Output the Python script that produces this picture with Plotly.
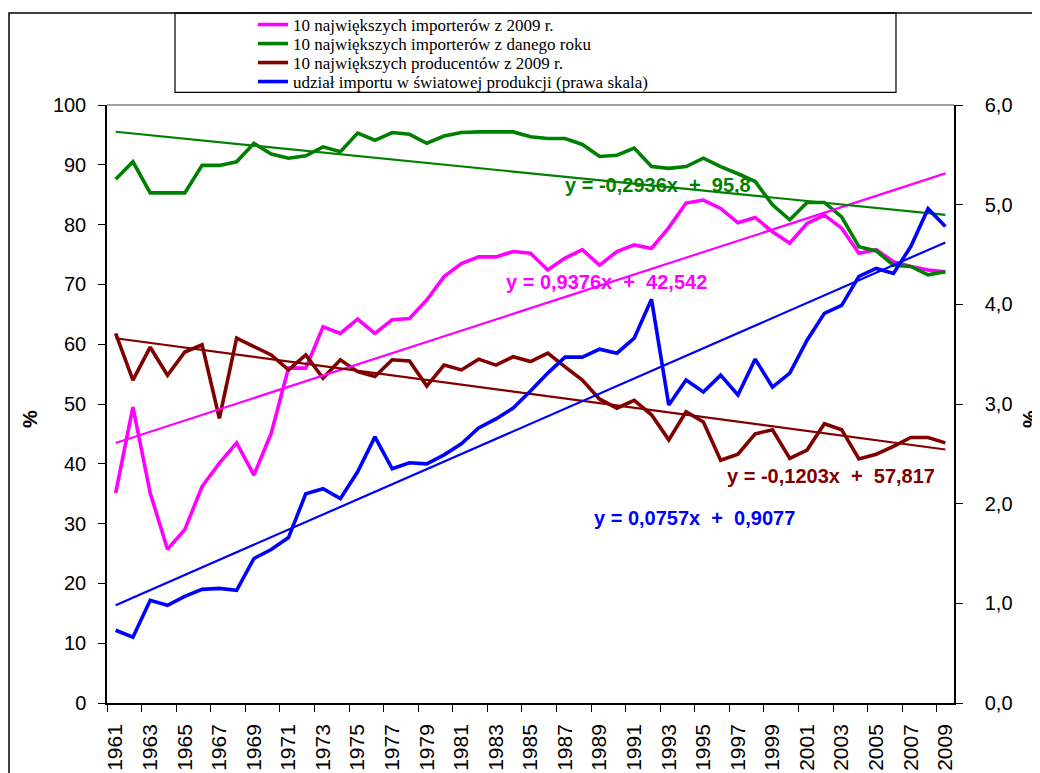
import numpy as np
import plotly.graph_objects as go

years = list(range(1961, 2010))

importers_2009 = [35.1, 49.5, 35.1, 25.7, 29.0, 36.2, 40.1, 43.5, 38.1, 45.1,
                  56.0, 56.0, 62.9, 61.8, 64.2, 61.8, 64.1, 64.3, 67.4, 71.3,
                  73.5, 74.6, 74.6, 75.5, 75.2, 72.4, 74.4, 75.8, 73.2, 75.5,
                  76.6, 76.0, 79.5, 83.6, 84.1, 82.7, 80.3, 81.2, 78.8, 76.9,
                  80.2, 81.6, 79.4, 75.2, 75.8, 73.8, 73.0, 72.4, 72.1]

importers_year = [87.6, 90.5, 85.3, 85.3, 85.3, 89.9, 89.9, 90.5, 93.6, 91.8,
                  91.1, 91.5, 93.0, 92.2, 95.3, 94.1, 95.4, 95.1, 93.6, 94.8,
                  95.4, 95.5, 95.5, 95.5, 94.7, 94.4, 94.4, 93.4, 91.4, 91.6,
                  92.8, 89.7, 89.4, 89.7, 91.1, 89.7, 88.5, 87.2, 83.3, 80.8,
                  83.7, 83.7, 81.3, 76.3, 75.6, 73.2, 73.0, 71.6, 72.1]

producers_2009 = [61.8, 54.0, 59.5, 54.8, 58.7, 59.9, 47.6, 61.0, 59.6, 58.2,
                  55.7, 58.2, 54.3, 57.4, 55.4, 54.6, 57.4, 57.2, 53.0, 56.5,
                  55.7, 57.5, 56.5, 57.9, 57.1, 58.5, 56.2, 54.0, 50.8, 49.3,
                  50.6, 48.2, 44.0, 48.7, 47.0, 40.6, 41.6, 45.0, 45.7, 40.9,
                  42.3, 46.7, 45.7, 40.8, 41.6, 42.9, 44.4, 44.4, 43.5]

import_share = [0.73, 0.66, 1.03, 0.98, 1.07, 1.14, 1.15, 1.13, 1.45, 1.54,
                1.66, 2.10, 2.15, 2.05, 2.32, 2.67, 2.35, 2.41, 2.40, 2.49,
                2.60, 2.76, 2.85, 2.96, 3.13, 3.31, 3.47, 3.47, 3.55, 3.51,
                3.66, 4.05, 2.99, 3.24, 3.12, 3.29, 3.09, 3.45, 3.17, 3.31,
                3.64, 3.91, 3.99, 4.28, 4.36, 4.31, 4.58, 4.96, 4.78]

names = ["10 największych importerów z 2009 r.",
         "10 największych importerów z danego roku",
         "10 największych producentów z 2009 r.",
         "udział importu w światowej produkcji (prawa skala)"]
colors = ["#FF00FF", "#008000", "#800000", "#0000FF"]
equations = ["y = 0,9376x\u00a0 +\u00a0 42,542",
             "y = -0,2936x\u00a0 +\u00a0 95,8",
             "y = -0,1203x\u00a0 +\u00a0 57,817",
             "y = 0,0757x\u00a0 +\u00a0 0,9077"]
# label anchor positions (year, value on own axis)
eq_pos = [(1989.4, 70.4, "y"), (1992.4, 86.6, "y"), (2002.4, 37.9, "y"), (1994.5, 1.86, "y2")]

series = [importers_2009, importers_year, producers_2009, import_share]
axes = ["y", "y", "y", "y2"]
legend_ids = ["legend", "legend2", "legend3", "legend4"]
legend_y = [0.97778, 0.95294, 0.92810, 0.90327]

fig = go.Figure()
idx = np.arange(1, len(years) + 1)
for s, n, c, ax, lg in zip(series, names, colors, axes, legend_ids):
    fig.add_trace(go.Scatter(x=years, y=s, name=n, mode="lines", legend=lg,
                             line=dict(color=c, width=3.6), yaxis=ax))
for s, c, ax in zip(series, colors, axes):
    k, b = np.polyfit(idx, np.array(s), 1)
    fig.add_trace(go.Scatter(x=years, y=k * idx + b, mode="lines", showlegend=False,
                             line=dict(color=c, width=2.2), yaxis=ax, hoverinfo="skip"))

for (ex, ey, ax), t, c in zip(eq_pos, equations, colors):
    fig.add_annotation(x=ex, y=ey, xref="x", yref=ax, text="<b>%s</b>" % t, showarrow=False,
                       xanchor="center", yanchor="middle",
                       font=dict(family="Liberation Sans, Arial", size=20, color=c))

tickfont = dict(family="Liberation Sans, Arial", size=20, color="black")
odd_years = years[::2]

legend_font = dict(family="Liberation Serif, Times New Roman", size=17, color="black")
legends = {}
for lg, ly in zip(legend_ids, legend_y):
    legends[lg] = dict(x=0.2374, y=ly, xref="container", yref="container",
                       xanchor="left", yanchor="middle", font=legend_font,
                       bgcolor="rgba(0,0,0,0)", borderwidth=0)

fig.update_layout(
    width=1032, height=765,
    margin=dict(l=99, r=86, t=97, b=70, autoexpand=False),
    paper_bgcolor="white", plot_bgcolor="white",
    separators=", ",
    showlegend=True,
    **legends,
    xaxis=dict(range=[1960.5, 2009.5], tickmode="array", tickvals=odd_years,
               ticktext=[str(y) for y in odd_years], tickangle=-90, ticks="",
               tickfont=dict(family="Liberation Sans, Arial", size=21, color="black"),
               ticklabelstandoff=11, automargin=False,
               showline=True, linecolor="black", linewidth=1.5, showgrid=False, zeroline=False,
               minor=dict(tick0=1960.5, dtick=2, ticks="outside", ticklen=7,
                          tickcolor="black", tickwidth=1, showgrid=False)),
    xaxis2=dict(range=[1960.5, 2009.5], overlaying="x", anchor="y", side="bottom",
                tickmode="array", tickvals=[], showticklabels=False, ticks="",
                showline=False, showgrid=False, zeroline=False, automargin=False,
                minor=dict(tick0=1960.5, dtick=2, ticks="inside", ticklen=7,
                           tickcolor="black", tickwidth=1, showgrid=False)),
    yaxis=dict(range=[0, 100], dtick=10, tickfont=tickfont, ticks="outside", ticklen=7,
               tickcolor="black", showline=True, linecolor="black", linewidth=1.5,
               showgrid=False, zeroline=False, ticklabelstandoff=8, automargin=False),
    yaxis2=dict(range=[0, 6], dtick=1, tickformat=".1f", tickfont=tickfont, overlaying="y",
                side="right", ticks="outside", ticklen=7, tickcolor="black",
                showline=True, linecolor="black", linewidth=1.5, showgrid=False,
                zeroline=False, ticklabelstandoff=18, automargin=False),
    yaxis3=dict(range=[0, 100], dtick=10, overlaying="y", side="left", ticks="inside",
                ticklen=7, tickcolor="black", showticklabels=False, showline=False,
                showgrid=False, zeroline=False, automargin=False),
    yaxis4=dict(range=[0, 6], dtick=1, overlaying="y", side="right", anchor="x", ticks="inside",
                ticklen=7, tickcolor="black", showticklabels=False, showline=False,
                showgrid=False, zeroline=False, automargin=False),
)

# plot-area top border, outer chart frame and legend frame
fig.add_shape(type="line", xref="paper", yref="paper", x0=0, x1=1, y0=1, y1=1,
              line=dict(color="#808080", width=1.5), layer="below")
fig.add_shape(type="rect", xref="paper", yref="paper", x0=-0.1157, x1=1.12, y0=-0.14, y1=1.1538,
              line=dict(color="black", width=1.5), fillcolor="rgba(0,0,0,0)")
fig.add_shape(type="rect", xref="paper", yref="paper", x0=0.0803, x1=0.9315, y0=1.0212, y1=1.1538,
              line=dict(color="black", width=1.2), fillcolor="rgba(0,0,0,0)")

fig.add_annotation(x=-0.0909, y=0.475, xref="paper", yref="paper", text="<b>%</b>", textangle=-90,
                   xanchor="center", yanchor="middle", showarrow=False,
                   font=dict(family="Liberation Sans, Arial", size=20, color="black"))
fig.add_annotation(x=1.0897, y=0.475, xref="paper", yref="paper", text="<b>%</b>", textangle=-90,
                   xanchor="center", yanchor="middle", showarrow=False,
                   font=dict(family="Liberation Sans, Arial", size=20, color="black"))

fig.write_html("out.html")
